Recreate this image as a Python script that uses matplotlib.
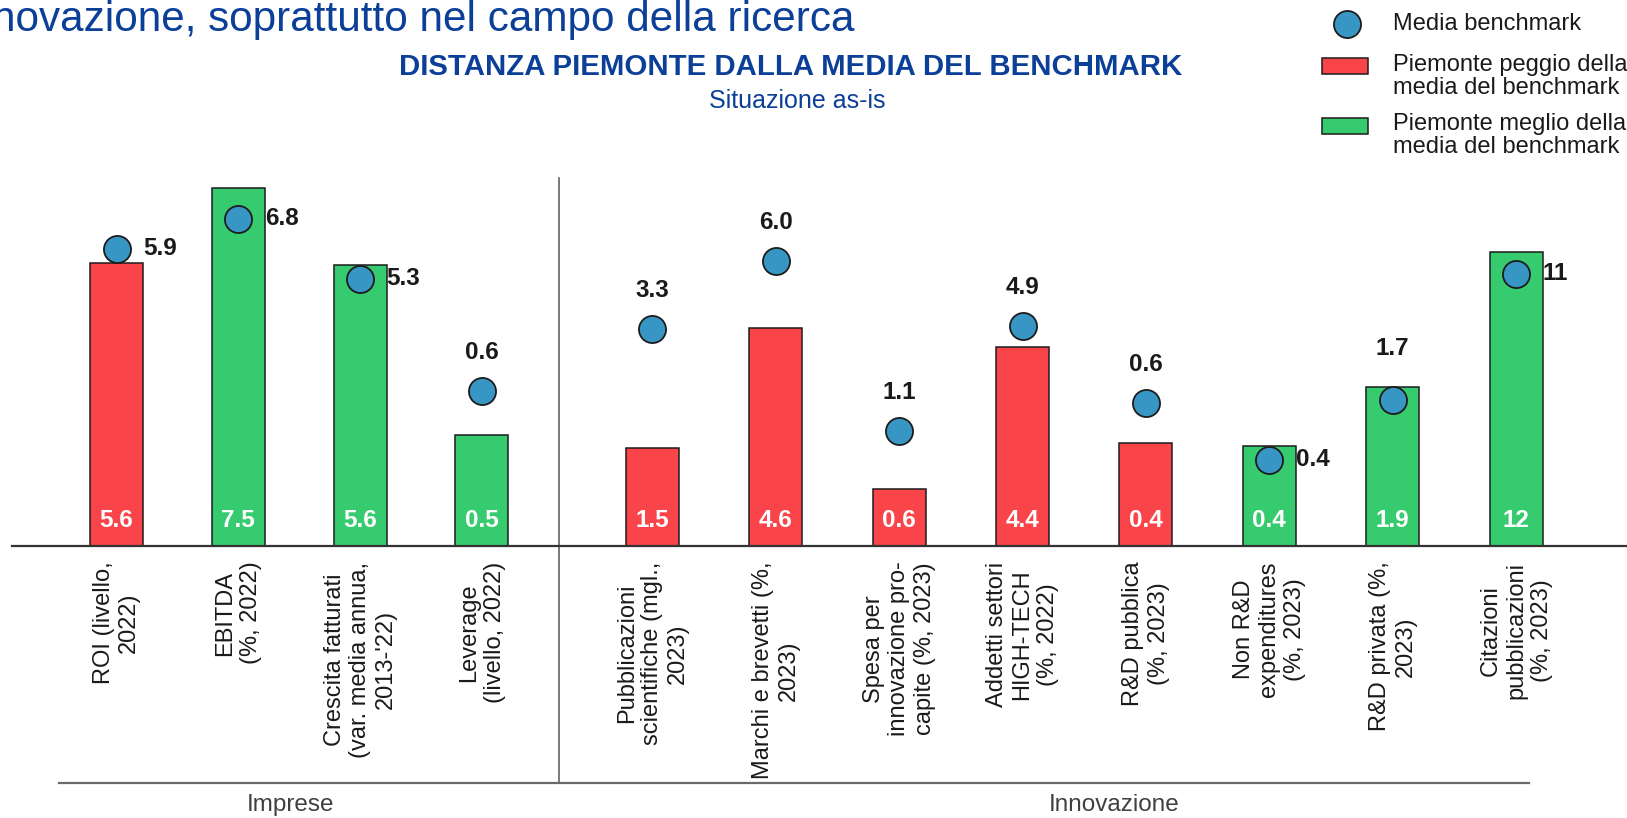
import numpy as np
import matplotlib
matplotlib.use("Agg")
import matplotlib.pyplot as plt
from matplotlib.patches import Rectangle
from matplotlib.lines import Line2D

plt.rcParams['font.family'] = ['Liberation Sans', 'DejaVu Sans']

# data (heights are the drawn, per-indicator scaled index)
categories = [
    "ROI (livello,\n2022)",
    "EBITDA\n(%, 2022)",
    "Crescita fatturati\n(var. media annua,\n2013-'22)",
    "Leverage\n(livello, 2022)",
    "Pubblicazioni\nscientifiche (mgl.,\n2023)",
    "Marchi e brevetti (%,\n2023)",
    "Spesa per\ninnovazione pro-\ncapite (%, 2023)",
    "Addetti settori\nHIGH-TECH\n(%, 2022)",
    "R&D pubblica\n(%, 2023)",
    "Non R&D\nexpenditures\n(%, 2023)",
    "R&D privata (%,\n2023)",
    "Citazioni\npubblicazioni\n(%, 2023)",
]
groups = ["Imprese", "Innovazione"]
group_size = [4, 8]

piemonte_labels = ["5.6", "7.5", "5.6", "0.5", "1.5", "4.6", "0.6", "4.4", "0.4", "0.4", "1.9", "12"]
benchmark_labels = ["5.9", "6.8", "5.3", "0.6", "3.3", "6.0", "1.1", "4.9", "0.6", "0.4", "1.7", "11"]

piemonte_height = [2.83, 3.58, 2.81, 1.11, 0.98, 2.18, 0.57, 1.99, 1.03, 1.00, 1.59, 2.94]
benchmark_height = [2.97, 3.27, 2.67, 1.55, 2.17, 2.85, 1.15, 2.20, 1.43, 0.86, 1.46, 2.72]
piemonte_better = [False, True, True, True, False, False, False, False, False, True, True, True]
label_side = ["right", "right", "right", "above", "above", "above", "above", "above",
              "above", "right", "above", "right"]

RED = "#F94449"
GREEN = "#37CB6F"
DOT = "#3896C4"
EDGE = "#1c1c1c"
BLUE = "#0B3F98"
TXT = "#1a1a1a"

W, H = 1627, 818
fig = plt.figure(figsize=(W / 100, H / 100), dpi=100)

# main axes: baseline at y=545.7 px, 1 unit = 100 px vertically, 121.8 px per category
unit = 121.8
x0_px = 116.5
left_px, base_px, top_px = 12, 545.7, 170
ax = fig.add_axes([left_px / W, 1 - base_px / H, (W - left_px) / W, (base_px - top_px) / H])
ax.set_xlim(-(x0_px - left_px) / unit, (W - x0_px) / unit)
ax.set_ylim(0, (base_px - top_px) / 100)

x = np.concatenate([np.arange(group_size[0]), 4.4 + np.arange(group_size[1]) * 1.013])
colors = [GREEN if b else RED for b in piemonte_better]

ax.bar(x, piemonte_height, width=0.435, color=colors, edgecolor=EDGE, linewidth=1.1, zorder=2)
ax.plot(x, benchmark_height, 'o', ms=19.5, mfc=DOT, mec=EDGE, mew=1.3, zorder=3, clip_on=False)

for xi, lab in zip(x, piemonte_labels):
    ax.text(xi, 0.25, lab, color="white", fontsize=17.5, fontweight="bold",
            ha="center", va="center", zorder=4)

for xi, lab, bh, ph, side in zip(x, benchmark_labels, benchmark_height, piemonte_height, label_side):
    if side == "right":
        ax.annotate(lab, (xi, bh), xytext=(19, 0), textcoords="offset points",
                    ha="left", va="center", fontsize=17.5, fontweight="bold", color=TXT)
    else:
        ax.text(xi, max(bh, ph) + 0.38, lab, ha="center", va="center",
                fontsize=17.5, fontweight="bold", color=TXT)

for xi, cat in zip(x, categories):
    ax.text(xi, -0.16, cat, rotation=90, ha="center", va="top", multialignment="center",
            fontsize=17, color=TXT, linespacing=1.2)

# axes styling
for s in ["top", "right", "left"]:
    ax.spines[s].set_visible(False)
ax.spines["bottom"].set_color("#333333")
ax.spines["bottom"].set_linewidth(1.6)
ax.set_xticks([])
ax.set_yticks([])

# separator between the groups and group axis
divider_x = 3.63
ax.plot([divider_x, divider_x], [3.68, -2.37], color="#555555", lw=1.1, clip_on=False)
ax.plot([-0.472, 11.6], [-2.37, -2.37], color="#6a6a6a", lw=1.6, clip_on=False)
ax.text(1.43, -2.59, groups[0], ha="center", va="center", fontsize=17.5, color="#404040")
ax.text(8.19, -2.59, groups[1], ha="center", va="center", fontsize=17.5, color="#404040")

# overlay in pixel coordinates for titles and legend
ov = fig.add_axes([0, 0, 1, 1], zorder=5)
ov.set_xlim(0, W)
ov.set_ylim(H, 0)
ov.axis("off")
ov.patch.set_alpha(0)

ov.text(-41, 31, "innovazione, soprattutto nel campo della ricerca", fontsize=30.4,
        color=BLUE, ha="left", va="baseline")
ov.text(791, 75, "DISTANZA PIEMONTE DALLA MEDIA DEL BENCHMARK", fontsize=21.2,
        fontweight="bold", color=BLUE, ha="center", va="baseline")
ov.text(797, 108, "Situazione as-is", fontsize=18, color=BLUE, ha="center", va="baseline")

ov.add_line(Line2D([1347], [24], marker="o", ms=19.5, mfc=DOT, mec=EDGE, mew=1.3))
ov.add_patch(Rectangle((1322, 58), 46, 16, facecolor=RED, edgecolor=EDGE, lw=1.1))
ov.add_patch(Rectangle((1322, 118), 46, 16, facecolor=GREEN, edgecolor=EDGE, lw=1.1))
ov.text(1393, 24, "Media benchmark", fontsize=17, color=TXT, va="center", ha="left")
ov.text(1393, 54, "Piemonte peggio della\nmedia del benchmark", fontsize=17, color=TXT,
        va="top", ha="left", linespacing=1.08)
ov.text(1393, 113, "Piemonte meglio della\nmedia del benchmark", fontsize=17, color=TXT,
        va="top", ha="left", linespacing=1.08)

fig.savefig("out.png", dpi=100)
